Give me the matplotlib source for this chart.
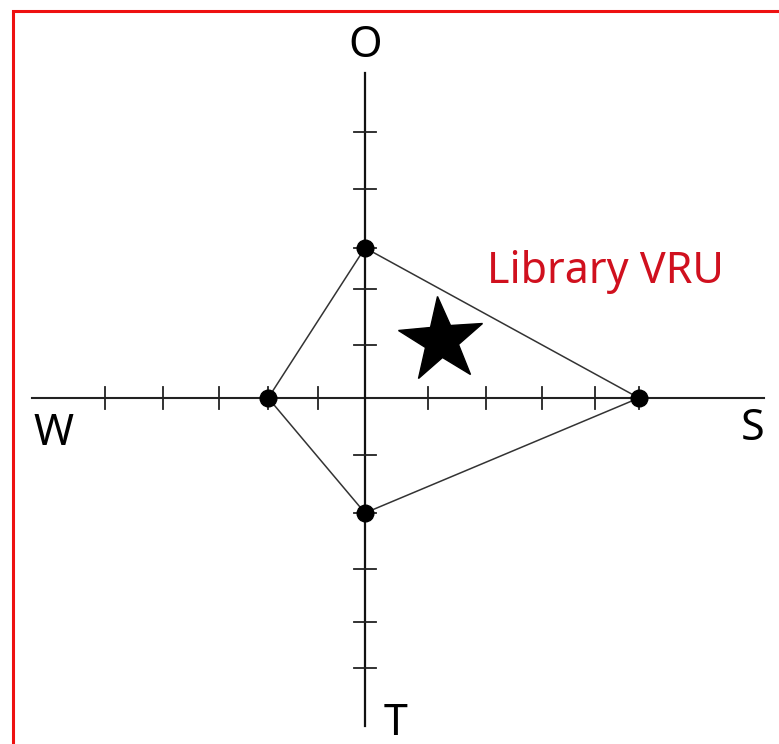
import matplotlib
matplotlib.use("Agg")
import matplotlib.pyplot as plt
from matplotlib.patches import Rectangle
from matplotlib.markers import MarkerStyle
from matplotlib.transforms import Affine2D

# ---- data (units: one tick ~ 1 unit) ----
axis_names = ["O", "S", "T", "W"]
x_ticks = [-4.73, -3.67, -2.65, -1.76, -0.85, 1.15, 2.20, 3.22, 4.18, 4.98]
y_ticks = [4.84, 3.80, 2.73, 1.98, 0.96, -1.04, -2.09, -3.11, -4.07, -4.91]
# polygon vertices in order O, S, T, W
poly_x = [0.0, 4.98, 0.0, -1.76]
poly_y = [2.73, 0.0, -2.09, 0.0]
star_x, star_y = [1.39], [1.05]
label_text = "Library VRU"
label_pos = (2.22, 2.09)

W_PX, H_PX = 779, 744
fig = plt.figure(figsize=(W_PX / 100, H_PX / 100), dpi=100)
ax = fig.add_axes([0, 0, 1, 1])
unit = 55.0
cx, cy = 365.0, 398.0
ax.set_xlim(-cx / unit, (W_PX - cx) / unit)
ax.set_ylim(-(H_PX - cy) / unit, cy / unit)
ax.axis("off")

# axes lines
ax.plot([-6.05, 7.25], [0, 0], color="#222222", lw=1.5, zorder=2)
ax.plot([0, 0], [-5.96, 5.91], color="#111111", lw=1.6, zorder=2)

tick_half = 0.2
for t in x_ticks:
    ax.plot([t, t], [-tick_half, tick_half], color="#222222", lw=1.3, zorder=2)
for t in y_ticks:
    ax.plot([-tick_half, tick_half], [t, t], color="#222222", lw=1.3, zorder=2)

# polygon
px = poly_x + poly_x[:1]
py = poly_y + poly_y[:1]
ax.plot(px, py, color="#333333", lw=1.1, zorder=3)
ax.plot(poly_x, poly_y, "o", color="black", ms=12, zorder=4)

# star
star = MarkerStyle("*", transform=Affine2D().rotate_deg(5))
ax.plot(star_x, star_y, marker=star, color="black", ms=64, ls="none", zorder=5)

# direction labels
font = "Noto Sans"
fs = 31
ax.text(0.0, 6.4, axis_names[0], ha="center", va="center", fontsize=fs, family=font)
ax.text(7.05, -0.56, axis_names[1], ha="center", va="center", fontsize=fs, family=font)
ax.text(0.55, -5.93, axis_names[2], ha="center", va="center", fontsize=fs, family=font)
ax.text(-5.67, -0.65, axis_names[3], ha="center", va="center", fontsize=fs, family=font)

ax.text(label_pos[0], label_pos[1], label_text, ha="left", va="baseline",
        fontsize=31, color="#d0101e", family=font)

# red frame
fig.patches.append(Rectangle((13 / W_PX, -0.1), 2, 1.1 - 11 / H_PX,
                             transform=fig.transFigure, fill=False,
                             edgecolor="#ee1111", lw=2.2, zorder=10))

fig.savefig("out.png", dpi=100)
